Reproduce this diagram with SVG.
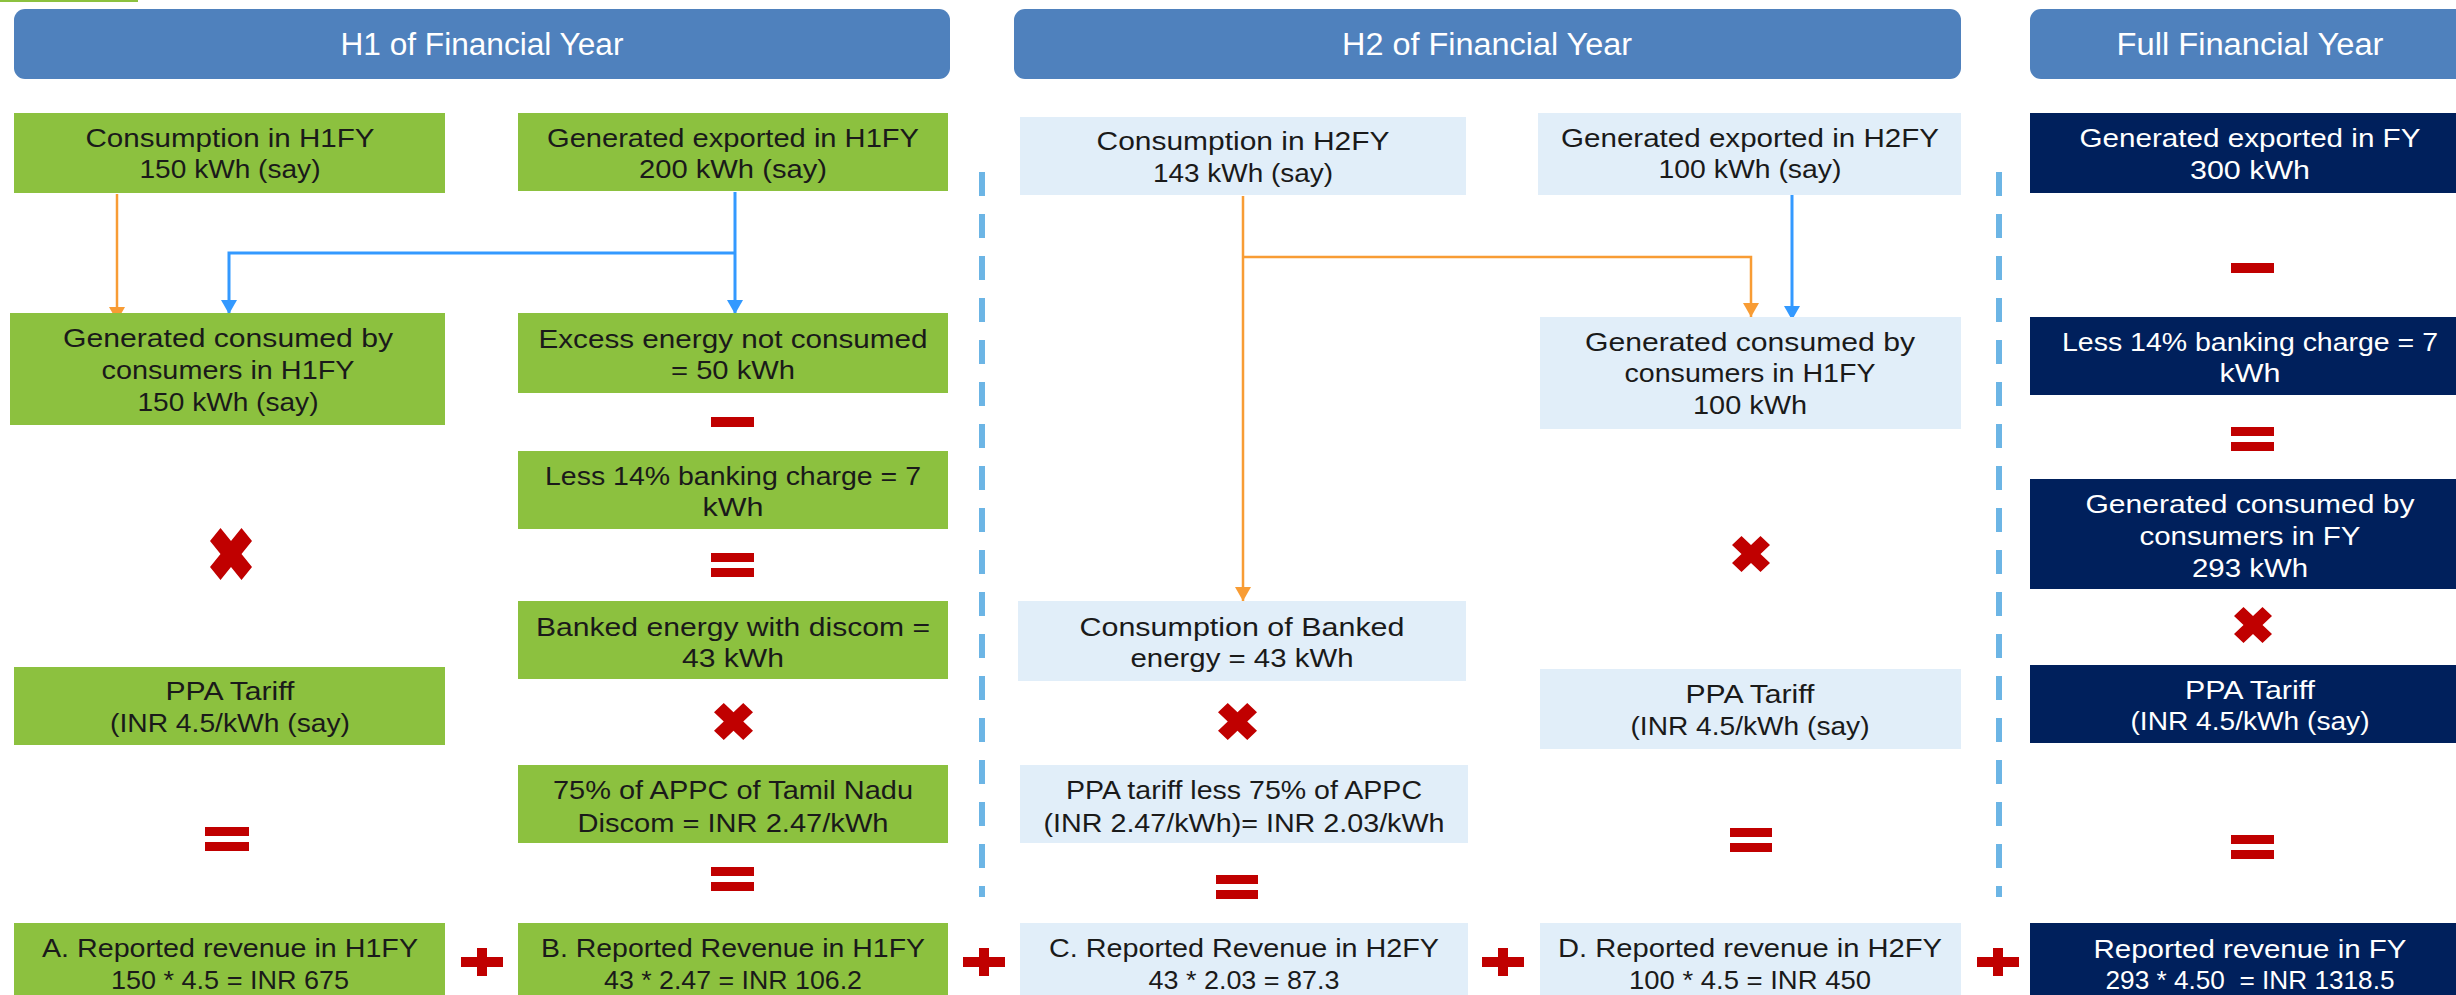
<svg xmlns="http://www.w3.org/2000/svg" xmlns:xlink="http://www.w3.org/1999/xlink" width="2456" height="995" viewBox="0 0 2456 995">
<style>
text{font-family:"Liberation Sans","Open Sans",sans-serif;font-size:26px;text-anchor:middle;}
.dk{fill:#1a1a1a;}
.wt{fill:#ffffff;}
.hd{font-size:31px;fill:#ffffff;}
.g{fill:#8CC13F;}
.lb{fill:#E1EEF9;}
.nv{fill:#00205C;}
.hdr{fill:#4F81BD;}
.red{fill:#C00000;}
.or{fill:none;stroke:#F89C34;stroke-width:2.5;}
.bl{fill:none;stroke:#3399FF;stroke-width:3;}
.dash{fill:none;stroke:#6CB5E5;stroke-width:6;stroke-dasharray:24 18;}
</style>
<defs>
<marker id="ao" viewBox="0 0 14 16" refX="14" refY="8" markerWidth="14" markerHeight="16" markerUnits="userSpaceOnUse" orient="auto"><path d="M0,0 L14,8 L0,16 z" fill="#F89C34"/></marker>
<marker id="ab" viewBox="0 0 14 16" refX="14" refY="8" markerWidth="14" markerHeight="16" markerUnits="userSpaceOnUse" orient="auto"><path d="M0,0 L14,8 L0,16 z" fill="#3399FF"/></marker>
<symbol id="xm" viewBox="0 0 40 40" preserveAspectRatio="none"><polygon points="0,10 10,0 20,10 30,0 40,10 30,20 40,30 30,40 20,30 10,40 0,30 10,20" fill="#C00000"/></symbol>
<symbol id="eq" viewBox="0 0 43 24" preserveAspectRatio="none"><rect x="0" y="0" width="43" height="9" fill="#C00000"/><rect x="0" y="15" width="43" height="9" fill="#C00000"/></symbol>
<symbol id="pl" viewBox="0 0 42 28" preserveAspectRatio="none"><rect x="0" y="9" width="42" height="10" fill="#C00000"/><rect x="16" y="0" width="10" height="28" fill="#C00000"/></symbol>
</defs>
<rect x="0" y="0" width="2456" height="995" fill="#ffffff"/>
<rect x="0" y="0" width="138" height="2" fill="#8CC13F"/>

<g id="headers">
<g id="h1"><rect class="hdr" x="14" y="9" width="936" height="70" rx="11"/><text class="hd" x="482" y="55" textLength="283" lengthAdjust="spacingAndGlyphs">H1 of Financial Year</text></g>
<g id="h2"><rect class="hdr" x="1014" y="9" width="947" height="70" rx="11"/><text class="hd" x="1487" y="55" textLength="290" lengthAdjust="spacingAndGlyphs">H2 of Financial Year</text></g>
<g id="h3"><rect class="hdr" x="2030" y="9" width="440" height="70" rx="11"/><text class="hd" x="2250" y="55" textLength="267" lengthAdjust="spacingAndGlyphs">Full Financial Year</text></g>
</g>

<g id="dividers">
<line class="dash" x1="982" y1="172" x2="982" y2="897"/>
<line class="dash" x1="1999" y1="172" x2="1999" y2="897"/>
</g>

<g id="connectors">
<path class="or" d="M117,194 V321" marker-end="url(#ao)"/>
<path class="bl" d="M735,192 V314" marker-end="url(#ab)"/>
<path class="bl" d="M735,253 H229 V314" marker-end="url(#ab)"/>
<path class="or" d="M1243,196 V601" marker-end="url(#ao)"/>
<path class="or" d="M1243,257 H1751 V317" marker-end="url(#ao)"/>
<path class="bl" d="M1792,192 V320" marker-end="url(#ab)"/>
</g>

<g id="n1"><rect class="g" x="14" y="113" width="431" height="80"/><text class="dk" x="230" y="147" textLength="289" lengthAdjust="spacingAndGlyphs">Consumption in H1FY</text><text class="dk" x="230" y="178" textLength="181" lengthAdjust="spacingAndGlyphs">150 kWh (say)</text></g>
<g id="n2"><rect class="g" x="518" y="113" width="430" height="78"/><text class="dk" x="733" y="147" textLength="372" lengthAdjust="spacingAndGlyphs">Generated exported in H1FY</text><text class="dk" x="733" y="178" textLength="188" lengthAdjust="spacingAndGlyphs">200 kWh (say)</text></g>
<g id="n3"><rect class="g" x="10" y="313" width="435" height="112"/><text class="dk" x="228" y="347" textLength="330" lengthAdjust="spacingAndGlyphs">Generated consumed by</text><text class="dk" x="228" y="379" textLength="253" lengthAdjust="spacingAndGlyphs">consumers in H1FY</text><text class="dk" x="228" y="411" textLength="181" lengthAdjust="spacingAndGlyphs">150 kWh (say)</text></g>
<g id="n4"><rect class="g" x="518" y="313" width="430" height="80"/><text class="dk" x="733" y="348" textLength="389" lengthAdjust="spacingAndGlyphs">Excess energy not consumed</text><text class="dk" x="733" y="379" textLength="124" lengthAdjust="spacingAndGlyphs">= 50 kWh</text></g>
<g id="n5"><rect class="g" x="518" y="451" width="430" height="78"/><text class="dk" x="733" y="485" textLength="376" lengthAdjust="spacingAndGlyphs">Less 14% banking charge = 7</text><text class="dk" x="733" y="516" textLength="61" lengthAdjust="spacingAndGlyphs">kWh</text></g>
<g id="n6"><rect class="g" x="518" y="601" width="430" height="78"/><text class="dk" x="733" y="636" textLength="394" lengthAdjust="spacingAndGlyphs">Banked energy with discom =</text><text class="dk" x="733" y="667" textLength="102" lengthAdjust="spacingAndGlyphs">43 kWh</text></g>
<g id="n7"><rect class="g" x="14" y="667" width="431" height="78"/><text class="dk" x="230" y="700" textLength="129" lengthAdjust="spacingAndGlyphs">PPA Tariff</text><text class="dk" x="230" y="732" textLength="240" lengthAdjust="spacingAndGlyphs">(INR 4.5/kWh (say)</text></g>
<g id="n8"><rect class="g" x="518" y="765" width="430" height="78"/><text class="dk" x="733" y="799" textLength="360" lengthAdjust="spacingAndGlyphs">75% of APPC of Tamil Nadu</text><text class="dk" x="733" y="832" textLength="311" lengthAdjust="spacingAndGlyphs">Discom = INR 2.47/kWh</text></g>
<g id="n9"><rect class="g" x="14" y="923" width="431" height="80"/><text class="dk" x="230" y="957" textLength="376" lengthAdjust="spacingAndGlyphs">A. Reported revenue in H1FY</text><text class="dk" x="230" y="989" textLength="238" lengthAdjust="spacingAndGlyphs">150 * 4.5 = INR 675</text></g>
<g id="n10"><rect class="g" x="518" y="923" width="430" height="80"/><text class="dk" x="733" y="957" textLength="384" lengthAdjust="spacingAndGlyphs">B. Reported Revenue in H1FY</text><text class="dk" x="733" y="989" textLength="258" lengthAdjust="spacingAndGlyphs">43 * 2.47 = INR 106.2</text></g>

<g id="n11"><rect class="lb" x="1020" y="117" width="446" height="78"/><text class="dk" x="1243" y="150" textLength="293" lengthAdjust="spacingAndGlyphs">Consumption in H2FY</text><text class="dk" x="1243" y="182" textLength="180" lengthAdjust="spacingAndGlyphs">143 kWh (say)</text></g>
<g id="n12"><rect class="lb" x="1538" y="113" width="423" height="82"/><text class="dk" x="1750" y="147" textLength="378" lengthAdjust="spacingAndGlyphs">Generated exported in H2FY</text><text class="dk" x="1750" y="178" textLength="183" lengthAdjust="spacingAndGlyphs">100 kWh (say)</text></g>
<g id="n13"><rect class="lb" x="1540" y="317" width="421" height="112"/><text class="dk" x="1750" y="351" textLength="330" lengthAdjust="spacingAndGlyphs">Generated consumed by</text><text class="dk" x="1750" y="382" textLength="251" lengthAdjust="spacingAndGlyphs">consumers in H1FY</text><text class="dk" x="1750" y="414" textLength="114" lengthAdjust="spacingAndGlyphs">100 kWh</text></g>
<g id="n14"><rect class="lb" x="1018" y="601" width="448" height="80"/><text class="dk" x="1242" y="636" textLength="325" lengthAdjust="spacingAndGlyphs">Consumption of Banked</text><text class="dk" x="1242" y="667" textLength="223" lengthAdjust="spacingAndGlyphs">energy = 43 kWh</text></g>
<g id="n15"><rect class="lb" x="1540" y="669" width="421" height="80"/><text class="dk" x="1750" y="703" textLength="129" lengthAdjust="spacingAndGlyphs">PPA Tariff</text><text class="dk" x="1750" y="735" textLength="239" lengthAdjust="spacingAndGlyphs">(INR 4.5/kWh (say)</text></g>
<g id="n16"><rect class="lb" x="1020" y="765" width="448" height="78"/><text class="dk" x="1244" y="799" textLength="356" lengthAdjust="spacingAndGlyphs">PPA tariff less 75% of APPC</text><text class="dk" x="1244" y="832" textLength="401" lengthAdjust="spacingAndGlyphs">(INR 2.47/kWh)= INR 2.03/kWh</text></g>
<g id="n17"><rect class="lb" x="1020" y="923" width="448" height="80"/><text class="dk" x="1244" y="957" textLength="390" lengthAdjust="spacingAndGlyphs">C. Reported Revenue in H2FY</text><text class="dk" x="1244" y="989" textLength="191" lengthAdjust="spacingAndGlyphs">43 * 2.03 = 87.3</text></g>
<g id="n18"><rect class="lb" x="1540" y="923" width="421" height="80"/><text class="dk" x="1750" y="957" textLength="384" lengthAdjust="spacingAndGlyphs">D. Reported revenue in H2FY</text><text class="dk" x="1750" y="989" textLength="242" lengthAdjust="spacingAndGlyphs">100 * 4.5 = INR 450</text></g>

<g id="n19"><rect class="nv" x="2030" y="113" width="440" height="80"/><text class="wt" x="2250" y="147" textLength="341" lengthAdjust="spacingAndGlyphs">Generated exported in FY</text><text class="wt" x="2250" y="179" textLength="120" lengthAdjust="spacingAndGlyphs">300 kWh</text></g>
<g id="n20"><rect class="nv" x="2030" y="317" width="440" height="78"/><text class="wt" x="2250" y="351" textLength="376" lengthAdjust="spacingAndGlyphs">Less 14% banking charge = 7</text><text class="wt" x="2250" y="382" textLength="61" lengthAdjust="spacingAndGlyphs">kWh</text></g>
<g id="n21"><rect class="nv" x="2030" y="479" width="440" height="110"/><text class="wt" x="2250" y="513" textLength="329" lengthAdjust="spacingAndGlyphs">Generated consumed by</text><text class="wt" x="2250" y="545" textLength="221" lengthAdjust="spacingAndGlyphs">consumers in FY</text><text class="wt" x="2250" y="577" textLength="116" lengthAdjust="spacingAndGlyphs">293 kWh</text></g>
<g id="n22"><rect class="nv" x="2030" y="665" width="440" height="78"/><text class="wt" x="2250" y="699" textLength="130" lengthAdjust="spacingAndGlyphs">PPA Tariff</text><text class="wt" x="2250" y="730" textLength="239" lengthAdjust="spacingAndGlyphs">(INR 4.5/kWh (say)</text></g>
<g id="n23"><rect class="nv" x="2030" y="923" width="440" height="80"/><text class="wt" x="2250" y="958" textLength="313" lengthAdjust="spacingAndGlyphs">Reported revenue in FY</text><text class="wt" x="2250" y="989" textLength="289" lengthAdjust="spacingAndGlyphs" xml:space="preserve">293 * 4.50  = INR 1318.5</text></g>

<g id="operators">
<rect class="red" x="711" y="417" width="43" height="10"/>
<use xlink:href="#eq" x="711" y="553" width="43" height="24"/>
<use xlink:href="#xm" x="210" y="528" width="42" height="52"/>
<use xlink:href="#xm" x="714" y="703" width="39" height="37"/>
<use xlink:href="#eq" x="205" y="827" width="44" height="24"/>
<use xlink:href="#eq" x="711" y="867" width="43" height="24"/>
<use xlink:href="#pl" x="461" y="948" width="42" height="28"/>
<use xlink:href="#pl" x="963" y="948" width="42" height="28"/>
<use xlink:href="#xm" x="1732" y="536" width="38" height="36"/>
<use xlink:href="#xm" x="1218" y="703" width="39" height="37"/>
<use xlink:href="#eq" x="1730" y="828" width="42" height="24"/>
<use xlink:href="#eq" x="1216" y="875" width="42" height="24"/>
<use xlink:href="#pl" x="1482" y="948" width="42" height="28"/>
<use xlink:href="#pl" x="1977" y="948" width="42" height="28"/>
<rect class="red" x="2231" y="263" width="43" height="10"/>
<use xlink:href="#eq" x="2231" y="427" width="43" height="24"/>
<use xlink:href="#xm" x="2234" y="607" width="38" height="36"/>
<use xlink:href="#eq" x="2231" y="835" width="43" height="24"/>
</g>
</svg>
